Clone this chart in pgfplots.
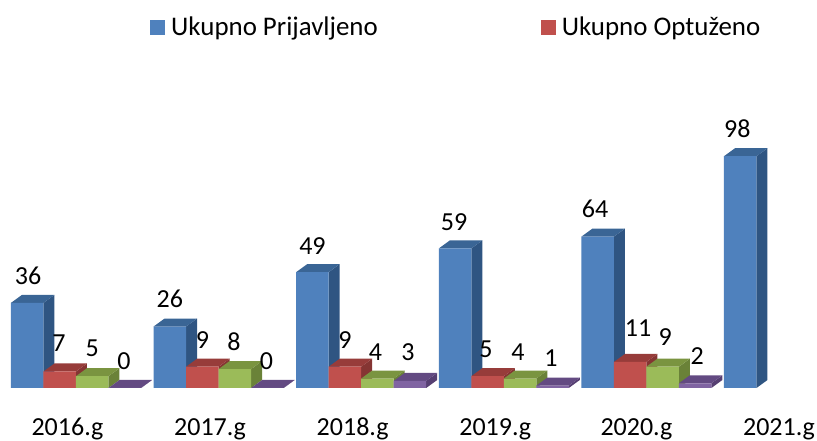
\documentclass[border=0pt]{standalone}
\usepackage{pgfplots}
\pgfplotsset{compat=1.18}
\usepackage{fontspec}
\setmainfont{Carlito}
\definecolor{bF}{HTML}{4F81BD}\definecolor{bT}{HTML}{3A6595}\definecolor{bS}{HTML}{2F5582}
\definecolor{rF}{HTML}{C0504D}\definecolor{rT}{HTML}{973C3A}\definecolor{rS}{HTML}{853533}
\definecolor{gF}{HTML}{9BBB59}\definecolor{gT}{HTML}{7A9440}\definecolor{gS}{HTML}{6A8238}
\definecolor{pF}{HTML}{8064A2}\definecolor{pT}{HTML}{634A82}\definecolor{pS}{HTML}{563F72}
% depth faces of one bar: group, shift in px, value, top colour, side colour
\newcommand{\depth}[5]{%
  \pgfmathsetmacro\xl{#1+(#2-16.25)/142.6}%
  \pgfmathsetmacro\xr{#1+(#2+16.25)/142.6}%
  \pgfmathsetmacro\xbl{#1+(#2-16.25+11)/142.6}%
  \pgfmathsetmacro\xbr{#1+(#2+16.25+11)/142.6}%
  \pgfmathsetmacro\yb{#3+8/2.365}%
  \pgfmathsetmacro\zb{8/2.365}%
  \edef\temp{\noexpand\addplot[fill=#5,draw=none,forget plot] coordinates {(\xr,0) (\xbr,\zb) (\xbr,\yb) (\xr,#3)} -- cycle;
  \noexpand\addplot[fill=#4,draw=none,forget plot] coordinates {(\xl,#3) (\xbl,\yb) (\xbr,\yb) (\xr,#3)} -- cycle;}%
  \temp}
% value label: group, shift in px, value, dx, dy
\newcommand{\lbl}[5]{%
  \pgfmathsetmacro\xc{#1+(#2)/142.6}%
  \edef\temp{\noexpand\addplot[draw=none,mark=none,forget plot,point meta=y,nodes near coords,
     every node near coord/.style={anchor=center,xshift=#4pt,yshift=#5pt,text=black,inner sep=0pt,font=\noexpand\fontsize{26}{26}\noexpand\selectfont}]
     coordinates {(\xc,#3)};}%
  \temp}
\begin{document}
\begin{tikzpicture}
\useasboundingbox (0,0) rectangle (817pt,441pt);
\begin{axis}[
  at={(0,0)},anchor=south west,
  scale only axis,width=817pt,height=441pt,
  xmin=-0.53295,xmax=5.1964,ymin=-22.41,ymax=164.06,
  axis line style={draw=none},
  /pgf/number format/assume math mode=true,
  ytick=\empty,
  xtick={-0.06,0.94,1.94,2.94,3.93,4.93},
  xticklabels={2016.g,2017.g,2018.g,2019.g,2020.g,2021.g},
  major tick length=0pt,
  x tick label style={anchor=base,yshift=5pt,font=\fontsize{26}{26}\selectfont,inner sep=0pt},
  clip=false,
  legend style={draw=none,fill=none,at={(150pt,426pt)},anchor=north west,legend columns=2,
    font=\fontsize{26.9}{26.9}\selectfont,legend cell align=left,inner sep=0pt,
    /tikz/every even column/.append style={column sep=0pt}},
  legend image code/.code={\fill[#1] (0pt,-8pt) rectangle (15pt,7pt);},
]
\addlegendimage{fill=bF,draw=none}\addlegendentry{\hspace{4pt}Ukupno Prijavljeno\rule{161pt}{0pt}}
\addlegendimage{fill=rF,draw=none}\addlegendentry{\hspace{4pt}Ukupno Optuženo}

% blue
\depth{0}{-48.75}{36}{bT}{bS}\depth{1}{-48.75}{26}{bT}{bS}\depth{2}{-48.75}{49}{bT}{bS}
\depth{3}{-48.75}{59}{bT}{bS}\depth{4}{-48.75}{64}{bT}{bS}\depth{5}{-48.75}{98}{bT}{bS}
\addplot[ybar,bar width=32.5pt,bar shift=-48.75pt,fill=bF,draw=none,forget plot]
  coordinates {(0,36)(1,26)(2,49)(3,59)(4,64)(5,98)};
% red
\depth{0}{-16.25}{7}{rT}{rS}\depth{1}{-16.25}{9}{rT}{rS}\depth{2}{-16.25}{9}{rT}{rS}
\depth{3}{-16.25}{5}{rT}{rS}\depth{4}{-16.25}{11}{rT}{rS}
\addplot[ybar,bar width=32.5pt,bar shift=-16.25pt,fill=rF,draw=none,forget plot]
  coordinates {(0,7)(1,9)(2,9)(3,5)(4,11)};
% green
\depth{0}{16.25}{5}{gT}{gS}\depth{1}{16.25}{8}{gT}{gS}\depth{2}{16.25}{4}{gT}{gS}
\depth{3}{16.25}{4}{gT}{gS}\depth{4}{16.25}{9}{gT}{gS}
\addplot[ybar,bar width=32.5pt,bar shift=16.25pt,fill=gF,draw=none,forget plot]
  coordinates {(0,5)(1,8)(2,4)(3,4)(4,9)};
% purple
\depth{0}{48.75}{0}{pT}{pS}\depth{1}{48.75}{0}{pT}{pS}\depth{2}{48.75}{3}{pT}{pS}
\depth{3}{48.75}{1}{pT}{pS}\depth{4}{48.75}{2}{pT}{pS}
\addplot[ybar,bar width=32.5pt,bar shift=48.75pt,fill=pF,draw=none,forget plot]
  coordinates {(0,0)(1,0)(2,3)(3,1)(4,2)};

% labels
\lbl{0}{-48.75}{36}{0.75}{27}\lbl{0}{-16.25}{7}{-0.75}{28}\lbl{0}{16.25}{5}{0}{28}\lbl{0}{48.75}{0}{-0.75}{27}
\lbl{1}{-48.75}{26}{0}{27.5}\lbl{1}{-16.25}{9}{0}{27}\lbl{1}{16.25}{8}{-1}{27}\lbl{1}{48.75}{0}{-1}{27}
\lbl{2}{-48.75}{49}{0}{26}\lbl{2}{-16.25}{9}{0}{27}\lbl{2}{16.25}{4}{-2}{26.5}\lbl{2}{48.75}{3}{-2}{29}
\lbl{3}{-48.75}{59}{-1}{26.5}\lbl{3}{-16.25}{5}{-1.5}{27}\lbl{3}{16.25}{4}{-2}{26.5}\lbl{3}{48.75}{1}{-1.5}{27.6}
\lbl{4}{-48.75}{64}{-2.5}{27.6}\lbl{4}{-16.25}{11}{8}{34}\lbl{4}{16.25}{9}{2.5}{29.7}\lbl{4}{48.75}{2}{2}{27}
\lbl{5}{-48.75}{98}{-3}{28}
\end{axis}
\end{tikzpicture}
\end{document}
